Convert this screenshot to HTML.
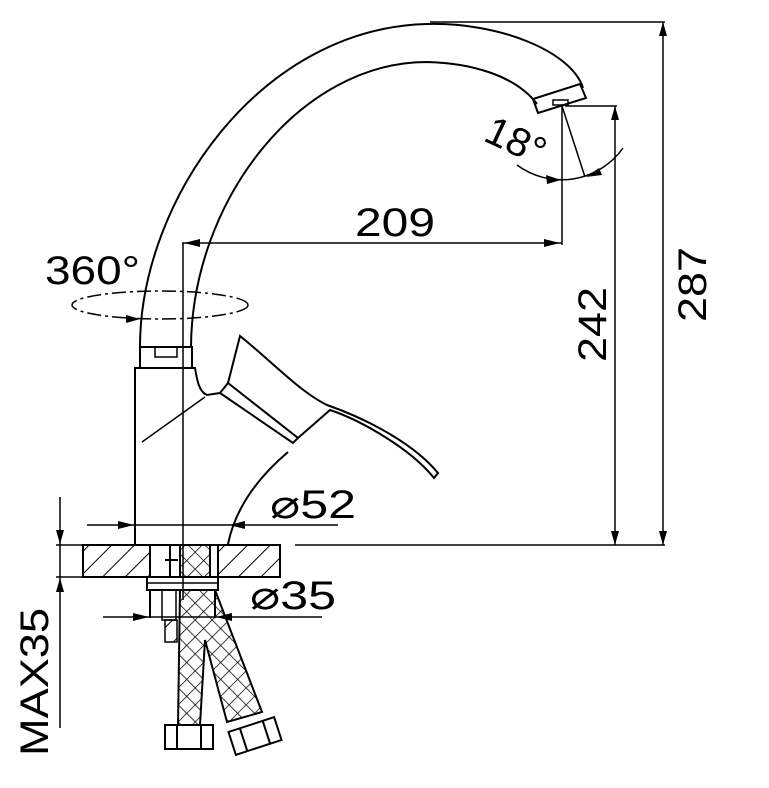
<!DOCTYPE html>
<html><head><style>html,body{margin:0;padding:0;background:#fff}svg{display:block}</style></head>
<body>
<svg width="769" height="788" viewBox="0 0 769 788" xmlns="http://www.w3.org/2000/svg">
<defs>
<pattern id="h" width="16" height="16" patternUnits="userSpaceOnUse" patternTransform="rotate(45)">
<line x1="0" y1="0" x2="0" y2="16" stroke="#000" stroke-width="2"/></pattern>
<pattern id="x" width="12" height="12" patternUnits="userSpaceOnUse" patternTransform="rotate(45)">
<line x1="0" y1="0" x2="0" y2="12" stroke="#000" stroke-width="1.5"/><line x1="0" y1="0" x2="12" y2="0" stroke="#000" stroke-width="1.5"/></pattern>
</defs>
<g fill="none" stroke="#000" stroke-width="2">
<path d="M140,347 C140,200 260,28 427,24 C500,22 572,52 583,88"/>
<path d="M191,347 C192,200 300,62 427,62 C470,63 515,75 537,104"/>
<path d="M580,84 L586,98 L538,113 L533,99 Z"/>
<rect x="553" y="100" width="15" height="5" stroke-width="1.5"/>
<rect x="140" y="347" width="52" height="21"/>
<rect x="155" y="347" width="22" height="10" stroke-width="1.5"/>
<path d="M135,545 L135,368 L195,368 C197,380 199,392 207,395 L220,393"/>
<line x1="183" y1="243" x2="183" y2="600" stroke-width="1.5"/>
<line x1="205" y1="397" x2="142" y2="442" stroke-width="1.5"/>
<path d="M220,393 L228,383 L240,336 C270,360 300,392 327,405 C370,420 415,445 438,473 L434,478 C410,448 360,420 330,410 L298,438"/>
<path d="M220,393 L293,443 L298,438 L228,383"/>
<path d="M288,452 C255,480 235,510 228,544"/>
<rect x="83" y="545" width="67" height="32" fill="url(#h)"/>
<rect x="218" y="545" width="62" height="32" fill="url(#h)"/>
<rect x="83" y="545" width="197" height="32"/>
<line x1="170" y1="545" x2="170" y2="577"/>
<rect x="180" y="545" width="30" height="32" fill="url(#x)"/>
<path d="M165,560 L178,560"/>
<rect x="147" y="577" width="71" height="13"/>
<line x1="147" y1="583" x2="218" y2="583" stroke-width="1.5"/>
<line x1="150" y1="590" x2="150" y2="618"/>
<line x1="215" y1="590" x2="215" y2="618"/>
<rect x="162" y="590" width="14" height="30" stroke-width="1.5"/>
<rect x="165" y="620" width="12" height="22" stroke-width="1.5" fill="url(#h)"/>
<path d="M180,590 L178,725 L200,725 L205,640 L227,722 L262,712 L215,590 Z" fill="url(#x)"/>
<rect x="165" y="725" width="48" height="24"/>
<line x1="177" y1="725" x2="177" y2="749"/><line x1="201" y1="725" x2="201" y2="749"/>
<g transform="translate(255,736) rotate(-18)"><rect x="-24" y="-12" width="48" height="24"/><line x1="-12" y1="-12" x2="-12" y2="12"/><line x1="12" y1="-12" x2="12" y2="12"/></g>
<line x1="295" y1="545" x2="665" y2="545" stroke-width="1.5"/>
<line x1="430" y1="22" x2="665" y2="22" stroke-width="1.5"/>
<line x1="663" y1="22" x2="663" y2="545" stroke-width="1.5"/>
<line x1="565" y1="106" x2="617" y2="106" stroke-width="1.5"/>
<line x1="615" y1="106" x2="615" y2="545" stroke-width="1.5"/>
<line x1="562" y1="107" x2="562" y2="245" stroke-width="1.5"/>
<line x1="562" y1="106" x2="585" y2="177" stroke-width="1.5"/>
<path d="M517,165 A75,75 0 0,0 623,148" stroke-width="1.5"/>
<line x1="182" y1="243" x2="562" y2="243" stroke-width="1.5"/>
<line x1="87" y1="525" x2="338" y2="525" stroke-width="1.5"/>
<line x1="103" y1="617" x2="322" y2="617" stroke-width="1.5"/>
<line x1="60" y1="497" x2="60" y2="728" stroke-width="1.5"/>
<line x1="56" y1="545" x2="83" y2="545" stroke-width="1.5"/>
<line x1="56" y1="577" x2="83" y2="577" stroke-width="1.5"/>
<ellipse cx="160" cy="305" rx="88" ry="14" stroke-width="1.5" stroke-dasharray="14,4,3,4"/>
</g>
<g fill="#000">
<path d="M663,22 l-4,14 l8,0Z"/><path d="M663,545 l-4,-14 l8,0Z"/>
<path d="M615,106 l-4,14 l8,0Z"/><path d="M615,545 l-4,-14 l8,0Z"/>
<path d="M184,243 l16,-4 l0,8Z"/><path d="M560,243 l-16,-4 l0,8Z"/>
<path d="M561,180 l-15,-5 l1,9Z"/><path d="M586,177 l13,-9 l3,7Z"/>
<path d="M134,525 l-16,-4 l0,8Z"/><path d="M229,525 l16,-4 l0,8Z"/>
<path d="M149,617 l-16,-4 l0,8Z"/><path d="M216,617 l16,-4 l0,8Z"/>
<path d="M60,544 l-4,-14 l8,0Z"/><path d="M60,578 l-4,14 l8,0Z"/>
<path d="M140,319 l-14,-4 l0,8Z"/>
</g>
<g font-family="Liberation Sans, sans-serif" font-size="40" fill="#000">
<text x="45" y="284" textLength="95" lengthAdjust="spacingAndGlyphs">360°</text>
<text x="355" y="236" textLength="80" lengthAdjust="spacingAndGlyphs">209</text>
<text x="270" y="518" textLength="86" lengthAdjust="spacingAndGlyphs">⌀52</text>
<text x="250" y="609" textLength="86" lengthAdjust="spacingAndGlyphs">⌀35</text>
<text transform="translate(606,362) rotate(-90)" textLength="75" lengthAdjust="spacingAndGlyphs">242</text>
<text transform="translate(706,322) rotate(-90)" textLength="75" lengthAdjust="spacingAndGlyphs">287</text>
<text transform="translate(48,756) rotate(-90)" textLength="148" lengthAdjust="spacingAndGlyphs">MAX35</text>
<text transform="translate(482,140) rotate(25)" textLength="62" lengthAdjust="spacingAndGlyphs">18°</text>
</g>
</svg>
</body></html>
